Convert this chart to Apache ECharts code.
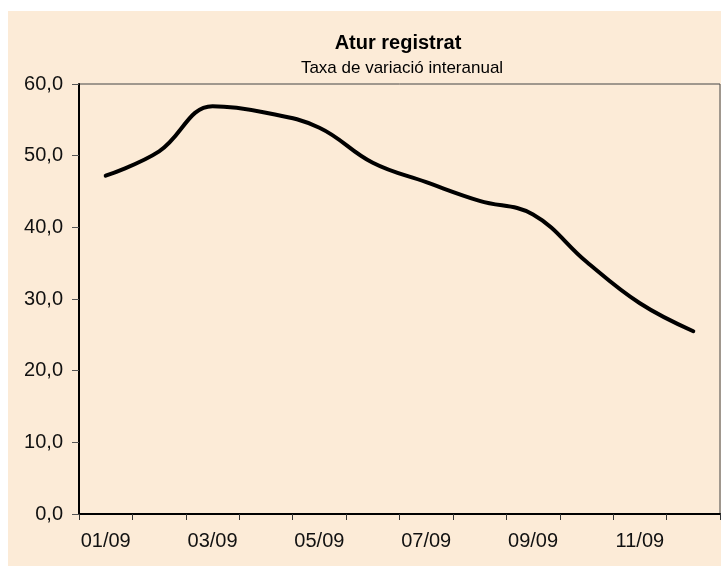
<!DOCTYPE html>
<html>
<head>
<meta charset="utf-8">
<script src="https://cdn.jsdelivr.net/npm/echarts@6/dist/echarts.min.js"></script>
<style>
    html, body { margin: 0; padding: 0; background: #fff; }
    #main { width: 721px; height: 566px; }
</style>
</head>
<body>
<div id="main"></div>
<script>
// dades llegides del gràfic
var months = ['01/09', '02/09', '03/09', '04/09', '05/09', '06/09', '07/09', '08/09', '09/09', '10/09', '11/09', '12/09']
var atur = [47.2, 50.6, 56.9, 56.0, 53.9, 49.0, 46.3, 43.7, 41.8, 35.2, 29.4, 25.5]
var yTicks = [0, 10, 20, 30, 40, 50, 60]

var fontFam = '"Liberation Sans", Arial, sans-serif'

var myChart = echarts.init(document.getElementById('main'))
var option = {
    backgroundColor: '#ffffff',
    animation: false,
    graphic: [{
        type: 'rect',
        z: -10,
        shape: { x: 8, y: 11, width: 713, height: 555 },
        style: { fill: '#fcebd7' }
    }],
    title: [{
        text: 'Atur registrat',
        left: 393,
        top: 28,
        textAlign: 'center',
        textStyle: { fontFamily: fontFam, fontSize: 20, fontWeight: 'bold', color: '#000' }
    }, {
        text: 'Taxa de variació interanual',
        left: 397,
        top: 55,
        textAlign: 'center',
        textStyle: { fontFamily: fontFam, fontSize: 17, fontWeight: 'normal', color: '#000' }
    }],
    grid: {
        left: 79,
        right: 1,
        top: 84,
        bottom: 52,
        show: true,
        backgroundColor: 'transparent',
        borderColor: '#444',
        borderWidth: 1
    },
    xAxis: {
        type: 'category',
        data: months,
        boundaryGap: true,
        axisLine: { lineStyle: { color: '#000', width: 2 } },
        axisTick: { show: true, interval: 0, length: 6, lineStyle: { color: '#333' } },
        axisLabel: {
            interval: 1,
            margin: 17,
            fontFamily: fontFam,
            fontSize: 20,
            color: '#111'
        },
        splitLine: { show: false }
    },
    yAxis: {
        type: 'value',
        min: yTicks[0],
        max: yTicks[yTicks.length - 1],
        interval: 10,
        axisLine: { show: true, lineStyle: { color: '#000', width: 2 } },
        axisTick: { show: true, length: 7, lineStyle: { color: '#555' } },
        axisLabel: {
            margin: 16,
            fontFamily: fontFam,
            fontSize: 20,
            color: '#111',
            formatter: function (v) { return v.toFixed(1).replace('.', ',') }
        },
        splitLine: { show: false }
    },
    series: [{
        name: 'Atur registrat',
        type: 'line',
        data: atur,
        smooth: 0.4,
        showSymbol: false,
        lineStyle: { color: '#000', width: 4, cap: 'round' }
    }]
}
myChart.setOption(option)
</script>
</body>
</html>
